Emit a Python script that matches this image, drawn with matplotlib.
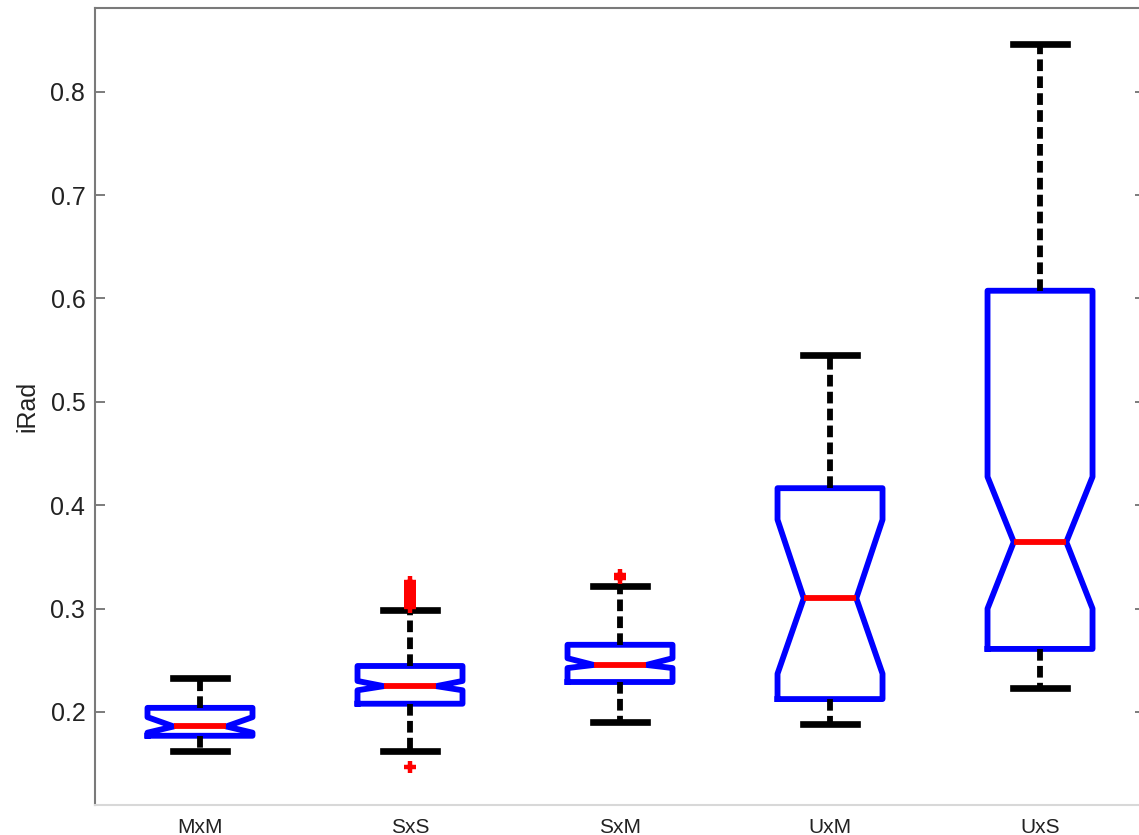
import matplotlib
matplotlib.use("Agg")
import matplotlib.pyplot as plt

plt.rcParams['font.family'] = ['Liberation Sans', 'DejaVu Sans']

# group names and box statistics
categories = ['MxM', 'SxS', 'SxM', 'UxM', 'UxS']
q1 = [0.177, 0.208, 0.229, 0.2125, 0.261]
med = [0.186, 0.225, 0.2455, 0.310, 0.3645]
q3 = [0.204, 0.2445, 0.265, 0.4165, 0.6075]
ci_lo = [0.180, 0.221, 0.2425, 0.237, 0.300]
ci_hi = [0.195, 0.230, 0.252, 0.386, 0.4275]
whis_lo = [0.162, 0.162, 0.190, 0.188, 0.223]
whis_hi = [0.233, 0.299, 0.322, 0.5455, 0.8466]
fliers = [
    [],
    [0.147, 0.302, 0.305, 0.308, 0.311, 0.314, 0.317, 0.320, 0.323, 0.326],
    [0.330, 0.333],
    [],
    [],
]
yticks = [0.2, 0.3, 0.4, 0.5, 0.6, 0.7, 0.8]

stats = []
for i, name in enumerate(categories):
    stats.append(dict(label=name, q1=q1[i], med=med[i], q3=q3[i],
                      cilo=ci_lo[i], cihi=ci_hi[i],
                      whislo=whis_lo[i], whishi=whis_hi[i],
                      fliers=fliers[i]))

fig = plt.figure(figsize=(11.39, 8.35), dpi=100)
ax = fig.add_axes([0.0834, 0.0359, 0.9219, 0.9545])

lw = 4.2
ax.bxp(stats, positions=range(1, 6), widths=0.5, capwidths=0.26,
       shownotches=True,
       boxprops=dict(color='#0000ff', linewidth=lw),
       medianprops=dict(color='#ff0000', linewidth=lw),
       whiskerprops=dict(color='black', linewidth=lw,
                         linestyle=(0, (2.0, 0.9))),
       capprops=dict(color='black', linewidth=lw + 0.6),
       flierprops=dict(marker='+', markeredgecolor='#ff0000',
                       markersize=9, markeredgewidth=3.2))

ax.set_xlim(0.5, 5.5)
ax.set_ylim(0.11, 0.881)
ax.set_yticks(yticks)
ax.set_yticklabels([f'{v:.1f}' for v in yticks])
ax.set_ylabel('iRad', fontsize=18, color='#222222', labelpad=8)

ax.tick_params(axis='y', direction='in', length=7, width=1.2,
               color='#666666', labelsize=18, labelcolor='#222222',
               right=True, pad=7)
ax.tick_params(axis='x', length=0, labelsize=15, labelcolor='#222222', pad=9)

for s in ['left', 'top', 'right']:
    ax.spines[s].set_color('#7a7a7a')
    ax.spines[s].set_linewidth(1.5)
ax.spines['bottom'].set_color('#d8d8d8')
ax.spines['bottom'].set_linewidth(1.5)

fig.savefig('out.png', dpi=100)
